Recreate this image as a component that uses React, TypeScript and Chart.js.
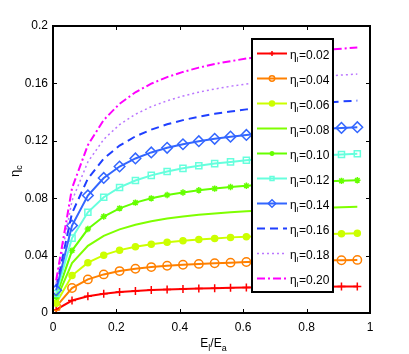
import React, { useEffect, useRef } from "react";
import { Chart, registerables } from "chart.js";
import { drawPoint } from "chart.js/helpers";

Chart.register(...registerables);

const xValues = [0.01, 0.06, 0.11, 0.16, 0.21, 0.26, 0.31, 0.36, 0.41, 0.46, 0.51, 0.56, 0.61, 0.66, 0.71, 0.76, 0.81, 0.86, 0.91, 0.96];

const eta002 = [0.0023, 0.0087, 0.0117, 0.0134, 0.0146, 0.0154, 0.0160, 0.0164, 0.0168, 0.0171, 0.0173, 0.0176, 0.0177, 0.0179, 0.0180, 0.0181, 0.0182, 0.0183, 0.0184, 0.0185];
const eta004 = [0.0045, 0.0174, 0.0234, 0.0269, 0.0292, 0.0308, 0.0320, 0.0329, 0.0336, 0.0342, 0.0347, 0.0351, 0.0355, 0.0358, 0.0360, 0.0363, 0.0365, 0.0367, 0.0368, 0.0370];
const eta006 = [0.0068, 0.0261, 0.0351, 0.0403, 0.0438, 0.0462, 0.0479, 0.0493, 0.0504, 0.0513, 0.0520, 0.0527, 0.0532, 0.0537, 0.0541, 0.0544, 0.0547, 0.0550, 0.0553, 0.0555];
const eta008 = [0.0091, 0.0348, 0.0468, 0.0538, 0.0583, 0.0615, 0.0639, 0.0658, 0.0672, 0.0684, 0.0694, 0.0702, 0.0709, 0.0715, 0.0721, 0.0726, 0.0730, 0.0733, 0.0737, 0.0740];
const eta010 = [0.0114, 0.0435, 0.0585, 0.0672, 0.0729, 0.0769, 0.0799, 0.0822, 0.0840, 0.0855, 0.0867, 0.0878, 0.0887, 0.0894, 0.0901, 0.0907, 0.0912, 0.0917, 0.0921, 0.0925];
const eta012 = [0.0136, 0.0522, 0.0702, 0.0807, 0.0875, 0.0923, 0.0959, 0.0986, 0.1008, 0.1026, 0.1041, 0.1053, 0.1064, 0.1073, 0.1081, 0.1088, 0.1095, 0.1100, 0.1105, 0.1110];
const eta014 = [0.0159, 0.0609, 0.0819, 0.0941, 0.1021, 0.1077, 0.1119, 0.1151, 0.1176, 0.1197, 0.1214, 0.1229, 0.1241, 0.1252, 0.1261, 0.1270, 0.1277, 0.1284, 0.1290, 0.1295];
const eta016 = [0.0182, 0.0696, 0.0936, 0.1076, 0.1167, 0.1231, 0.1278, 0.1315, 0.1344, 0.1368, 0.1388, 0.1404, 0.1419, 0.1431, 0.1442, 0.1451, 0.1460, 0.1467, 0.1474, 0.1480];
const eta018 = [0.0205, 0.0783, 0.1053, 0.1210, 0.1313, 0.1385, 0.1438, 0.1479, 0.1512, 0.1539, 0.1561, 0.1580, 0.1596, 0.1610, 0.1622, 0.1632, 0.1642, 0.1650, 0.1658, 0.1665];
const eta020 = [0.0227, 0.0870, 0.1170, 0.1345, 0.1458, 0.1538, 0.1598, 0.1644, 0.1680, 0.1710, 0.1735, 0.1755, 0.1773, 0.1789, 0.1802, 0.1814, 0.1824, 0.1834, 0.1842, 0.1850];

const seriesLabels = ["0.02", "0.04", "0.06", "0.08", "0.10", "0.12", "0.14", "0.16", "0.18", "0.20"];
const seriesValues = [eta002, eta004, eta006, eta008, eta010, eta012, eta014, eta016, eta018, eta020];

const xTicks = [0, 0.2, 0.4, 0.6, 0.8, 1];
const yTicks = [0, 0.04, 0.08, 0.12, 0.16, 0.2];

const FONT = "'Liberation Sans', Arial, Helvetica, sans-serif";

type Style = {
  color: string;
  pointStyle: any;
  radius: number;
  fill: boolean;
  dash: number[];
  width: number;
};

const styles: Style[] = [
  { color: "#ff0000", pointStyle: "cross", radius: 4, fill: false, dash: [], width: 2 },
  { color: "#ff8000", pointStyle: "circle", radius: 4.2, fill: false, dash: [], width: 2 },
  { color: "#ccff00", pointStyle: "circle", radius: 3, fill: true, dash: [], width: 2 },
  { color: "#7fff00", pointStyle: false, radius: 0, fill: false, dash: [], width: 2 },
  { color: "#66ff00", pointStyle: "star", radius: 3.2, fill: false, dash: [], width: 2 },
  { color: "#66ffdd", pointStyle: "rect", radius: 4.3, fill: false, dash: [], width: 2 },
  { color: "#3366ff", pointStyle: "rectRot", radius: 5.3, fill: false, dash: [], width: 2 },
  { color: "#1f3fff", pointStyle: false, radius: 0, fill: false, dash: [8, 5], width: 2 },
  { color: "#bb77ff", pointStyle: false, radius: 0, fill: false, dash: [2, 3], width: 1.5 },
  { color: "#ff00ff", pointStyle: false, radius: 0, fill: false, dash: [8, 3, 2, 3], width: 2 },
];

const fmt = (v: number) => String(Number(v.toFixed(2)));

const framePlugin = {
  id: "matlabFrame",
  afterDraw(chart: any) {
    const ctx = chart.ctx as CanvasRenderingContext2D;
    const { left, right, top, bottom } = chart.chartArea;
    const xs = chart.scales.x;
    const ys = chart.scales.y;
    ctx.save();
    ctx.setLineDash([]);
    ctx.strokeStyle = "#000";
    ctx.lineWidth = 1;
    const tl = 4;
    ctx.beginPath();
    xTicks.forEach((t) => {
      const px = Math.round(xs.getPixelForValue(t)) + 0.5;
      ctx.moveTo(px, bottom);
      ctx.lineTo(px, bottom - tl);
      ctx.moveTo(px, top);
      ctx.lineTo(px, top + tl);
    });
    yTicks.forEach((t) => {
      const py = Math.round(ys.getPixelForValue(t)) + 0.5;
      ctx.moveTo(left, py);
      ctx.lineTo(left + tl, py);
      ctx.moveTo(right, py);
      ctx.lineTo(right - tl, py);
    });
    ctx.stroke();
    ctx.lineWidth = 2;
    ctx.strokeRect(left, top, right - left, bottom - top);

    // axis titles
    ctx.fillStyle = "#000";
    ctx.textBaseline = "alphabetic";
    ctx.textAlign = "left";
    const big = 12;
    const sub = 9;
    const parts: [string, boolean][] = [["E", false], ["l", true], ["/E", false], ["a", true]];
    let totalW = 0;
    parts.forEach(([t, s]) => {
      ctx.font = `${s ? sub : big}px ${FONT}`;
      totalW += ctx.measureText(t).width;
    });
    let cx = (left + right) / 2 - totalW / 2 + 2;
    const base = 347;
    parts.forEach(([t, s]) => {
      ctx.font = `${s ? sub : big}px ${FONT}`;
      ctx.fillText(t, cx, s ? base + 4 : base);
      cx += ctx.measureText(t).width;
    });

    // y title: eta_c rotated
    ctx.save();
    ctx.translate(19, 177);
    ctx.rotate(-Math.PI / 2);
    ctx.font = `13px ${FONT}`;
    ctx.fillText("η", 0, 0);
    const ew = ctx.measureText("η").width;
    ctx.font = `9px ${FONT}`;
    ctx.fillText("c", ew, 3);
    ctx.restore();

    // legend box
    const lx = 252, ly = 39, lw = 81, lh = 253;
    ctx.fillStyle = "#fff";
    ctx.fillRect(lx, ly, lw, lh);
    ctx.lineWidth = 2;
    ctx.strokeStyle = "#000";
    ctx.strokeRect(lx, ly, lw, lh);

    styles.forEach((st, i) => {
      const y = 53.5 + 25 * i;
      ctx.save();
      ctx.strokeStyle = st.color;
      ctx.lineWidth = st.width;
      ctx.setLineDash(st.dash);
      ctx.beginPath();
      ctx.moveTo(257, y);
      ctx.lineTo(287, y);
      ctx.stroke();
      ctx.setLineDash([]);
      if (st.pointStyle) {
        ctx.fillStyle = st.fill ? st.color : "rgba(0,0,0,0)";
        ctx.strokeStyle = st.color;
        ctx.lineWidth = 1.5;
        drawPoint(ctx, { radius: Math.max(2.5, st.radius - 1.5), pointStyle: st.pointStyle, rotation: 0, borderWidth: 1.5 } as any, 272, y);
      }
      ctx.restore();
      ctx.fillStyle = "#000";
      ctx.font = `12px ${FONT}`;
      let tx = 290;
      const tb = y + 5;
      ctx.fillText("η", tx, tb);
      tx += ctx.measureText("η").width;
      ctx.font = `8px ${FONT}`;
      ctx.fillText("l", tx, tb + 3);
      tx += ctx.measureText("l").width + 0.5;
      ctx.font = `12px ${FONT}`;
      ctx.fillText("=" + seriesLabels[i], tx, tb);
    });
    ctx.restore();
  },
};

export default function App() {
  const ref = useRef<HTMLCanvasElement | null>(null);
  useEffect(() => {
    if (!ref.current) return;
    const datasets = seriesValues.map((vals, i) => {
      const st = styles[i];
      return {
        label: "η=" + seriesLabels[i],
        data: vals.map((v, j) => ({ x: xValues[j], y: v })),
        borderColor: st.color,
        backgroundColor: st.fill ? st.color : "rgba(0,0,0,0)",
        borderWidth: st.width,
        borderDash: st.dash,
        pointStyle: st.pointStyle,
        pointRadius: st.radius,
        pointBorderWidth: 1.5,
        pointBorderColor: st.color,
        pointBackgroundColor: st.fill ? st.color : "rgba(0,0,0,0)",
        tension: 0,
        fill: false,
        order: 10 - i,
      };
    });
    const chart = new Chart(ref.current, {
      type: "line",
      data: { datasets },
      options: {
        animation: false,
        responsive: false,
        devicePixelRatio: 1,
        layout: { padding: { top: 26, right: 39, left: 0, bottom: 0 } },
        plugins: { legend: { display: false }, tooltip: { enabled: false } },
        scales: {
          x: {
            type: "linear",
            min: 0,
            max: 1,
            afterFit: (s: any) => { s.height = 41; },
            afterBuildTicks: (s: any) => { s.ticks = xTicks.map((v) => ({ value: v })); },
            grid: { display: false, drawTicks: false },
            border: { display: false },
            ticks: {
              autoSkip: false,
              maxRotation: 0,
              padding: 7,
              color: "#000",
              font: { family: FONT, size: 12 },
              callback: (v: any) => fmt(Number(v)),
            },
          },
          y: {
            type: "linear",
            min: 0,
            max: 0.2,
            afterFit: (s: any) => { s.width = 53; },
            afterBuildTicks: (s: any) => { s.ticks = yTicks.map((v) => ({ value: v })); },
            grid: { display: false, drawTicks: false },
            border: { display: false },
            ticks: {
              autoSkip: false,
              padding: 5,
              color: "#000",
              font: { family: FONT, size: 12 },
              callback: (v: any) => fmt(Number(v)),
            },
          },
        },
      } as any,
      plugins: [framePlugin],
    });
    return () => chart.destroy();
  }, []);
  return (
    <div style={{ position: "absolute", left: 0, top: 0, width: 409, height: 354, background: "#fff" }}>
      <canvas ref={ref} width={409} height={354} style={{ width: 409, height: 354, display: "block" }} />
    </div>
  );
}
